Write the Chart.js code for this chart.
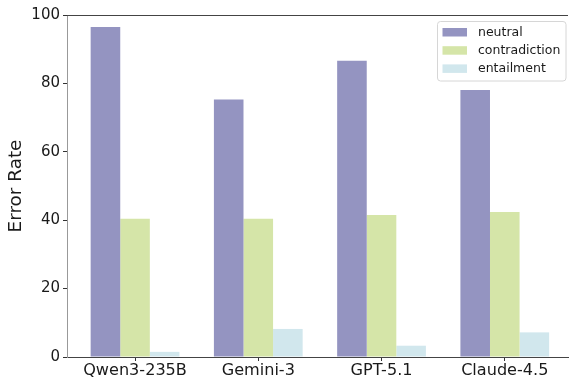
<!DOCTYPE html>
<html>
<head>
<meta charset="utf-8">
<script src="https://cdn.jsdelivr.net/npm/chart.js@4/dist/chart.umd.min.js"></script>
<style>
html,body{margin:0;padding:0;background:#fff;}
#wrap{width:569px;height:380px;position:relative;}
</style>
</head>
<body>
<div id="wrap"><canvas id="c" width="569" height="380"></canvas></div>
<script>
const categories = ['Qwen3-235B', 'Gemini-3', 'GPT-5.1', 'Claude-4.5'];
const neutral = [96.5, 75.3, 86.6, 78.1];
const contradiction = [40.4, 40.4, 41.5, 42.4];
const entailment = [1.5, 8.2, 3.3, 7.2];
const yTicks = [0, 20, 40, 60, 80, 100];
const seriesNames = ['neutral', 'contradiction', 'entailment'];
const seriesColors = ['#9494c1', '#d5e5a8', '#d1e7ed'];

const FONT = 'DejaVu Sans';

const toPoints = arr => arr.map((v, i) => ({x: i, y: v}));

const spines = {
  id: 'spines',
  afterDraw(chart) {
    const {ctx, chartArea: a} = chart;
    ctx.save();
    ctx.lineWidth = 1;
    ctx.strokeStyle = '#444';
    ctx.beginPath();
    ctx.moveTo(a.left, a.top + 0.5);
    ctx.lineTo(a.right, a.top + 0.5);
    ctx.stroke();
    ctx.restore();
  }
};

const boxLegend = {
  id: 'boxLegend',
  afterDraw(chart) {
    const ctx = chart.ctx;
    ctx.save();
    const x0 = 437.5, y0 = 21.5, w = 128.5, h = 59.5, r = 3;
    ctx.fillStyle = 'rgba(255,255,255,0.8)';
    ctx.strokeStyle = '#d6d6d6';
    ctx.lineWidth = 1;
    ctx.beginPath();
    ctx.moveTo(x0 + r, y0);
    ctx.lineTo(x0 + w - r, y0);
    ctx.quadraticCurveTo(x0 + w, y0, x0 + w, y0 + r);
    ctx.lineTo(x0 + w, y0 + h - r);
    ctx.quadraticCurveTo(x0 + w, y0 + h, x0 + w - r, y0 + h);
    ctx.lineTo(x0 + r, y0 + h);
    ctx.quadraticCurveTo(x0, y0 + h, x0, y0 + h - r);
    ctx.lineTo(x0, y0 + r);
    ctx.quadraticCurveTo(x0, y0, x0 + r, y0);
    ctx.closePath();
    ctx.fill();
    ctx.stroke();
    ctx.font = '12.5px "' + FONT + '"';
    ctx.textBaseline = 'middle';
    ctx.textAlign = 'left';
    chart.data.datasets.forEach((ds, i) => {
      const cy = 32 + i * 18.2;
      ctx.fillStyle = ds.backgroundColor;
      ctx.fillRect(442.5, cy - 4, 24.5, 8.5);
      ctx.fillStyle = '#1a1a1a';
      ctx.fillText(ds.label, 478, cy + 0.5);
    });
    ctx.restore();
  }
};

new Chart(document.getElementById('c'), {
  type: 'bar',
  data: {
    datasets: [
      {label: seriesNames[0], data: toPoints(neutral), backgroundColor: seriesColors[0]},
      {label: seriesNames[1], data: toPoints(contradiction), backgroundColor: seriesColors[1]},
      {label: seriesNames[2], data: toPoints(entailment), backgroundColor: seriesColors[2]}
    ]
  },
  options: {
    responsive: false,
    animation: false,
    devicePixelRatio: 1,
    categoryPercentage: 0.72,
    barPercentage: 1.0,
    borderWidth: 0,
    layout: {padding: {left: 0, right: 1, top: 15, bottom: 0}},
    plugins: {legend: {display: false}, tooltip: {enabled: false}},
    scales: {
      x: {
        type: 'linear',
        offset: false,
        min: -0.552,
        max: 3.513,
        grid: {offset: false, drawOnChartArea: false, drawTicks: true, tickLength: 4, tickColor: '#333'},
        border: {display: true, color: '#444', width: 1},
        afterBuildTicks: s => { s.ticks = categories.map((c, i) => ({value: i})); },
        afterFit: s => { s.height = 23; },
        ticks: {
          autoSkip: false,
          maxRotation: 0,
          padding: 0,
          color: '#1a1a1a',
          font: {family: FONT, size: 16.1},
          callback: v => categories[v]
        }
      },
      y: {
        min: 0,
        max: 100,
        grid: {drawOnChartArea: false, drawTicks: true, tickLength: 4, tickColor: '#333'},
        border: {display: true, color: '#999', width: 1},
        afterBuildTicks: s => { s.ticks = yTicks.map(v => ({value: v})); },
        afterFit: s => { s.width = 67; },
        ticks: {
          padding: 3,
          color: '#1a1a1a',
          font: {family: FONT, size: 15}
        },
        title: {
          display: true,
          text: 'Error Rate',
          color: '#1a1a1a',
          font: {family: FONT, size: 18.4},
          padding: {top: 5, bottom: 0}
        }
      }
    }
  },
  plugins: [spines, boxLegend]
});
</script>
</body>
</html>
